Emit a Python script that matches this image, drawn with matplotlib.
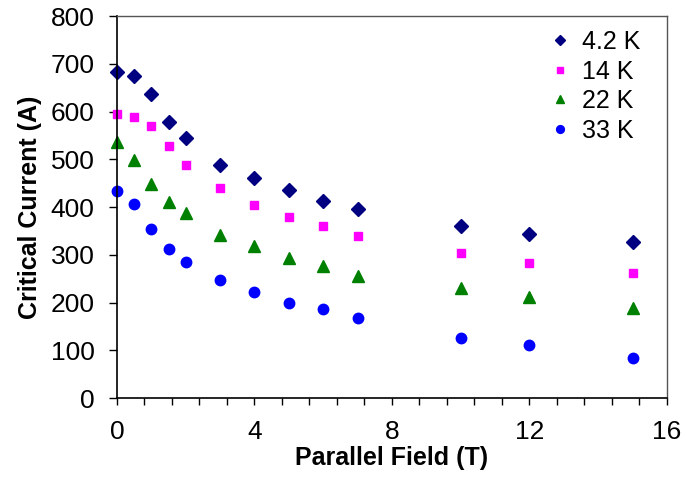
import matplotlib
matplotlib.use("Agg")
import matplotlib.pyplot as plt
from matplotlib.ticker import MultipleLocator

plt.rcParams['font.family'] = ['Liberation Sans', 'DejaVu Sans']

# field values (T)
field = [0, 0.5, 1, 1.5, 2, 3, 4, 5, 6, 7, 10, 12, 15]

# critical current (A) at each temperature
ic_42K = [683, 675, 636, 579, 544, 489, 460, 435, 412, 395, 361, 344, 327]
ic_14K = [594, 589, 569, 527, 489, 440, 405, 380, 360, 340, 303, 283, 263]
ic_22K = [537, 498, 449, 410, 388, 342, 318, 294, 276, 256, 230, 211, 188]
ic_33K = [433, 407, 354, 312, 285, 248, 222, 200, 187, 167, 127, 111, 85]

labels = ["4.2 K", "14 K", "22 K", "33 K"]

fig = plt.figure(figsize=(6.84, 4.78), dpi=100)
ax = fig.add_axes([0.171, 0.167, 0.804, 0.7995])

ax.plot(field, ic_42K, 'D', color='#000080', ms=7, mec='#000080', ls='none', label=labels[0], clip_on=False)
ax.plot(field, ic_14K, 's', color='#FF00FF', ms=5.5, mec='#FF00FF', ls='none', label=labels[1], clip_on=False)
ax.plot(field, ic_22K, '^', color='#008000', ms=8.5, mec='#008000', ls='none', label=labels[2], clip_on=False)
ax.plot(field, ic_33K, 'o', color='#0000FF', ms=7.5, mec='#0000FF', ls='none', label=labels[3], clip_on=False)

ax.set_xlim(0, 16)
ax.set_ylim(0, 800)
ax.xaxis.set_major_locator(MultipleLocator(4))
ax.xaxis.set_minor_locator(MultipleLocator(0.8))
ax.yaxis.set_major_locator(MultipleLocator(100))

ax.tick_params(axis='x', which='both', direction='out', length=5, width=1, labelsize=19, pad=11)
ax.tick_params(axis='y', which='both', direction='out', length=6, width=1, labelsize=19, pad=10)
ax.tick_params(top=False, right=False)

for side in ['left', 'bottom']:
    ax.spines[side].set_linewidth(1.2)
    ax.spines[side].set_color('black')
for side in ['top', 'right']:
    ax.spines[side].set_linewidth(1)
    ax.spines[side].set_color('#555555')

ax.set_xlabel('Parallel Field (T)', fontsize=18, fontweight='bold', labelpad=1)
ax.set_ylabel('Critical Current (A)', fontsize=18, fontweight='bold', labelpad=6)

leg = ax.legend(loc='upper right', bbox_to_anchor=(0.993, 1.022), frameon=False, fontsize=18,
                markerscale=0.75, handletextpad=0.4, labelspacing=0.22, handlelength=1.0)

fig.savefig('out.png', dpi=100)
